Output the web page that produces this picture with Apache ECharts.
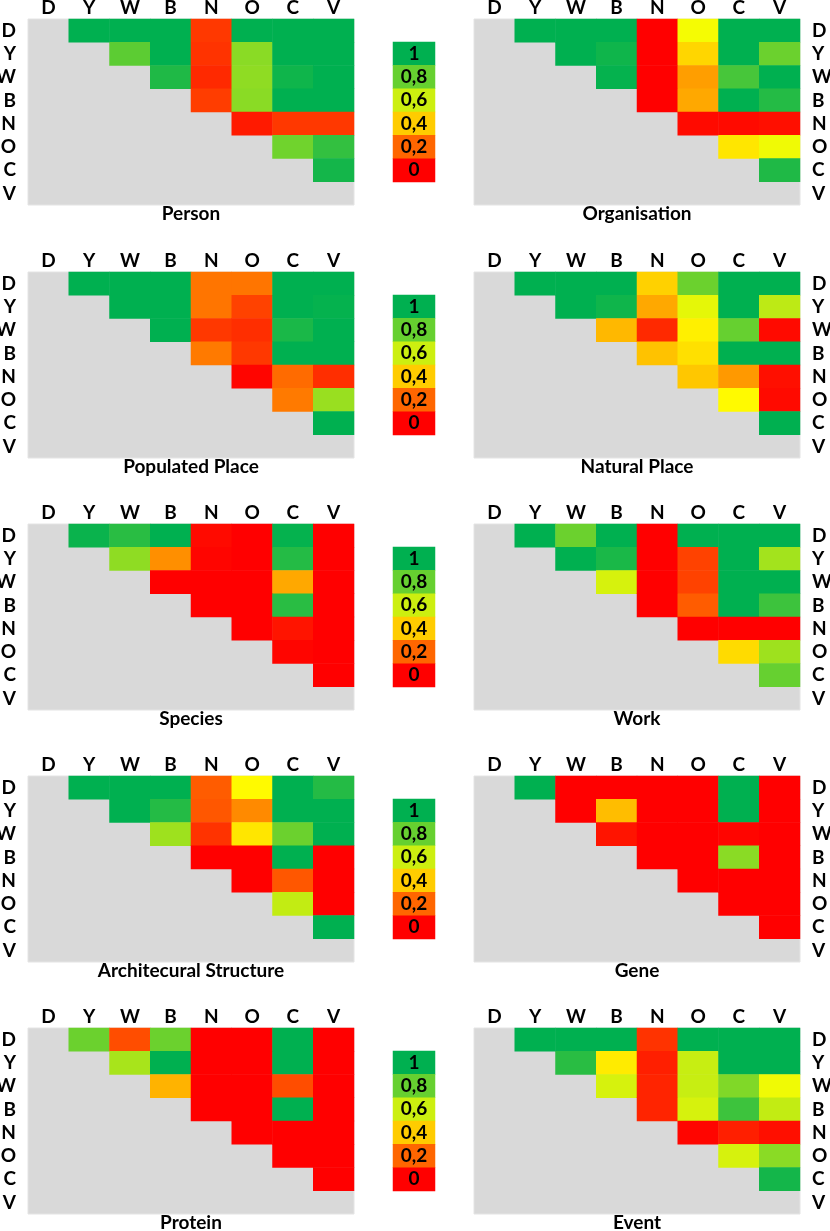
<!DOCTYPE html>
<html lang="en">
<head>
<meta charset="UTF-8">
<title>Pairwise heatmaps</title>
<style>
  body { margin: 0; background: #fff; }
  #chart { width: 830px; height: 1231px; }
</style>
</head>
<body>
<div id="chart"></div>
<script src="https://cdn.jsdelivr.net/npm/echarts@6/dist/echarts.min.js"></script>
<script>
var codes = ['D', 'Y', 'W', 'B', 'N', 'O', 'C', 'V'];
var titles = ['Person', 'Organisation', 'Populated Place', 'Natural Place', 'Species',
              'Work', 'Architecural Structure', 'Gene', 'Protein', 'Event'];
var scaleValues = [1, 0.8, 0.6, 0.4, 0.2, 0];
var scaleLabels = ['1', '0,8', '0,6', '0,4', '0,2', '0'];

// upper triangle only: row r holds the columns r+1 .. V
var person = [
  [1, 1, 1, 0.11, 1, 1, 1],
  [0.82, 1, 0.1, 0.73, 1, 1],
  [0.94, 0.08, 0.72, 0.97, 1],
  [0.12, 0.73, 1, 1],
  [0.05, 0.11, 0.11],
  [0.78, 0.9],
  [0.96]
];
var organisation = [
  [1, 1, 1, 0, 0.52, 1, 1],
  [1, 0.97, 0, 0.42, 1, 0.79],
  [0.99, 0, 0.31, 0.86, 1],
  [0, 0.33, 1, 0.93],
  [0.02, 0.02, 0.03],
  [0.45, 0.53],
  [0.94]
];
var populatedPlace = [
  [1, 1, 1, 0.23, 0.23, 1, 1],
  [1, 1, 0.23, 0.13, 1, 0.99],
  [1, 0.11, 0.09, 0.95, 1],
  [0.24, 0.11, 1, 1],
  [0.01, 0.21, 0.09],
  [0.24, 0.7],
  [1]
];
var naturalPlace = [
  [1, 1, 1, 0.41, 0.79, 1, 1],
  [1, 0.97, 0.33, 0.55, 1, 0.63],
  [0.36, 0.08, 0.47, 0.8, 0.02],
  [0.38, 0.44, 1, 1],
  [0.39, 0.3, 0.03],
  [0.49, 0.02],
  [1]
];
var species = [
  [0.98, 0.92, 1, 0.02, 0, 0.99, 0],
  [0.72, 0.28, 0.01, 0, 0.93, 0],
  [0, 0, 0, 0.33, 0],
  [0, 0, 0.92, 0],
  [0, 0.04, 0],
  [0.01, 0],
  [0]
];
var work = [
  [1, 0.79, 1, 0, 1, 1, 1],
  [1, 0.95, 0, 0.13, 1, 0.68],
  [0.58, 0, 0.13, 1, 1],
  [0, 0.18, 1, 0.88],
  [0, 0, 0],
  [0.43, 0.69],
  [0.8]
];
var architecturalStructure = [
  [1, 1, 1, 0.18, 0.49, 1, 0.93],
  [1, 0.93, 0.17, 0.27, 1, 1],
  [0.69, 0.1, 0.45, 0.79, 1],
  [0, 0, 1, 0],
  [0, 0.17, 0],
  [0.62, 0],
  [1]
];
var gene = [
  [1, 0, 0, 0, 0, 1, 0],
  [0, 0.37, 0, 0, 1, 0],
  [0.04, 0, 0, 0.01, 0],
  [0, 0, 0.73, 0],
  [0, 0, 0],
  [0, 0],
  [0]
];
var protein = [
  [0.79, 0.15, 0.79, 0, 0, 1, 0],
  [0.67, 1, 0, 0, 1, 0],
  [0.35, 0, 0, 0.15, 0],
  [0, 0, 1, 0],
  [0, 0, 0],
  [0, 0],
  [0]
];
var eventData = [
  [1, 1, 1, 0.1, 1, 1, 1],
  [0.92, 0.46, 0.06, 0.61, 1, 1],
  [0.58, 0.07, 0.61, 0.75, 0.53],
  [0.07, 0.58, 0.88, 0.62],
  [0.01, 0.06, 0.03],
  [0.58, 0.73],
  [0.96]
];
var panels = [person, organisation, populatedPlace, naturalPlace, species,
              work, architecturalStructure, gene, protein, eventData];

function cellsOf(m) {
  var out = [];
  for (var r = 0; r < m.length; r++) {
    for (var k = 0; k < m[r].length; k++) {
      out.push([r + 1 + k, r, m[r][k]]);
    }
  }
  return out;
}

function drawAll() {
  var font = 'Lato';
  var fs = 19;
  var colLeft = [28, 474];
  var rowTop = [19, 272, 524, 776, 1028];
  var gridW = 326, gridH = 186;
  var grids = [], xAxes = [], yAxes = [], series = [], titleList = [];

  for (var p = 0; p < panels.length; p++) {
    var side = p % 2;
    var gTop = rowTop[Math.floor(p / 2)];
    grids.push({
      left: colLeft[side], top: gTop, width: gridW, height: gridH,
      show: true, backgroundColor: '#d9d9d9', borderWidth: 1, borderColor: '#e4e4e4',
      outerBoundsMode: 'none'
    });
    xAxes.push({
      gridIndex: p, type: 'category', data: codes, position: 'top',
      axisLine: { show: false }, axisTick: { show: false }, splitLine: { show: false },
      axisLabel: { interval: 0, color: '#000', fontWeight: 'bold', fontSize: fs, fontFamily: font, margin: 2 }
    });
    yAxes.push({
      gridIndex: p, type: 'category', data: codes, inverse: true,
      position: side ? 'right' : 'left',
      axisLine: { show: false }, axisTick: { show: false }, splitLine: { show: false },
      axisLabel: { interval: 0, color: '#000', fontWeight: 'bold', fontSize: fs, fontFamily: font, margin: 12 }
    });
    series.push({
      type: 'heatmap', xAxisIndex: p, yAxisIndex: p,
      data: cellsOf(panels[p]),
      itemStyle: { borderWidth: 0 },
      emphasis: { disabled: true }
    });
    titleList.push({
      text: titles[p],
      left: colLeft[side] + gridW / 2, top: gTop + gridH - 1,
      textAlign: 'center', padding: 0,
      textStyle: { color: '#000', fontWeight: 'bold', fontSize: fs, fontFamily: font }
    });
  }

  // colour key between the two columns, one per row of panels
  for (var r = 0; r < rowTop.length; r++) {
    var idx = grids.length;
    grids.push({ left: 393, top: rowTop[r] + 23, width: 42, height: 140, outerBoundsMode: 'none' });
    xAxes.push({ gridIndex: idx, type: 'category', data: [''], show: false });
    yAxes.push({ gridIndex: idx, type: 'category', data: scaleLabels, inverse: true, show: false });
    series.push({
      type: 'heatmap', xAxisIndex: idx, yAxisIndex: idx,
      data: scaleValues.map(function (v, i) { return [0, i, v]; }),
      itemStyle: { borderWidth: 0 },
      emphasis: { disabled: true },
      label: {
        show: true, color: '#000', fontWeight: 'bold', fontSize: fs, fontFamily: font,
        formatter: function (q) { return scaleLabels[q.data[1]]; }
      }
    });
  }

  var chart = echarts.init(document.getElementById('chart'));
  chart.setOption({
    animation: false,
    backgroundColor: '#fff',
    title: titleList,
    grid: grids,
    xAxis: xAxes,
    yAxis: yAxes,
    visualMap: {
      show: false, type: 'continuous', min: 0, max: 1, dimension: 2,
      seriesIndex: series.map(function (s, i) { return i; }),
      inRange: { color: ['#ff0000', '#ffff00', '#00b050'] }
    },
    series: series
  });
}

drawAll();
</script>
</body>
</html>
